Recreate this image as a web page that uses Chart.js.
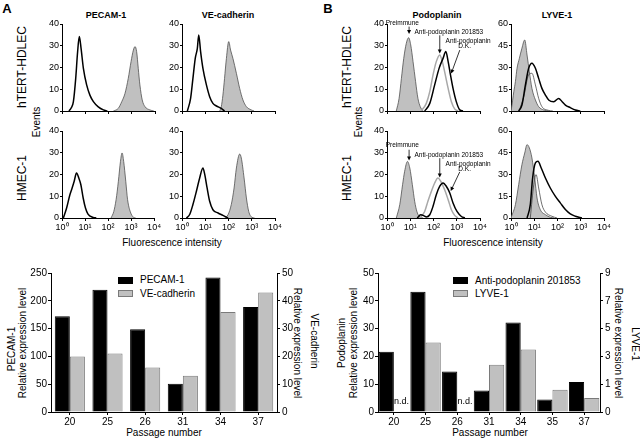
<!DOCTYPE html>
<html><head><meta charset="utf-8">
<script src="https://cdn.jsdelivr.net/npm/chart.js@4.4.1/dist/chart.umd.min.js"></script>
<style>
html,body{margin:0;padding:0;background:#fff;}
#fig{position:relative;width:640px;height:440px;overflow:hidden;background:#fff;font-family:"Liberation Sans",Arial,sans-serif;color:#000;}
#fig canvas{position:absolute;}
.t{position:absolute;white-space:nowrap;line-height:1;}
.lg{position:absolute;box-sizing:border-box;}
</style></head><body><div id="fig"></div>
<script>
// ---------- DATA ----------
const decadeLabels = ['10\u2070', '10\u00B9', '10\u00B2', '10\u00B3', '10\u2074'];

// Flow cytometry histograms: [log10 fluorescence, events]
const pecamHdlecCtrl = [[0.30,0],[0.40,1.5],[0.49,4.3],[0.59,15],[0.67,27],[0.745,34.2],[0.82,28.8],[0.92,19.6],[1.06,12],[1.2,7.3],[1.35,4.3],[1.56,1.9],[1.78,0.5],[1.95,0]];
const pecamHdlecStain = [[2.21,0],[2.42,1.2],[2.57,4.3],[2.71,8.1],[2.85,15],[2.97,22.7],[3.07,28],[3.14,29.6],[3.21,27.3],[3.28,19.6],[3.35,12],[3.45,5.1],[3.57,2],[3.78,0.5],[3.95,0]];
const vecadHdlecCtrl = [[0.23,0],[0.37,5.8],[0.47,15],[0.57,24.2],[0.66,28.8],[0.72,35],[0.8,27.3],[0.9,19.6],[1.05,12],[1.19,6.6],[1.33,3.5],[1.48,2.3],[1.69,1.2],[1.83,0]];
const vecadHdlecStain = [[1.62,0],[1.69,2],[1.76,7.3],[1.83,15],[1.91,24.2],[2.01,31.9],[2.09,28],[2.19,24.2],[2.34,17.3],[2.48,10.4],[2.62,5.1],[2.77,2],[2.98,0.5],[3.1,0]];
const pecamHmecCtrl = [[0.06,0],[0.2,4.6],[0.34,10.6],[0.44,13.8],[0.53,16.9],[0.63,20.7],[0.73,18.4],[0.82,15.3],[0.92,9.2],[1.02,4.6],[1.13,1.8],[1.35,0.3],[1.49,0]];
const pecamHmecStain = [[2.13,0],[2.25,3],[2.35,8.4],[2.45,16.9],[2.54,26],[2.61,29.9],[2.68,26],[2.77,16.9],[2.85,8.4],[2.97,2.8],[3.11,0.3],[3.2,0]];
const vecadHmecCtrl = [[0.19,0],[0.33,1.6],[0.47,6.2],[0.62,12.3],[0.76,18.4],[0.9,23],[0.98,19.9],[1.08,13.8],[1.19,7.7],[1.33,3.8],[1.55,2.3],[1.76,1.2],[1.98,0]];
const vecadHmecStain = [[1.83,0],[1.98,1.5],[2.12,6.2],[2.24,13.8],[2.34,23],[2.48,29.4],[2.55,27.6],[2.67,18.4],[2.77,9.2],[2.87,3],[3.01,0.3],[3.12,0]];

const podoHdlecPre = [[0.4,0],[0.52,5.8],[0.62,15],[0.72,24.2],[0.83,31.1],[0.93,33.7],[1.02,30.4],[1.12,22.7],[1.23,13.5],[1.33,5.8],[1.43,2],[1.55,0]];
const podoHdlec201853 = [[1.47,0],[1.69,3.5],[1.84,8.9],[1.98,16.6],[2.12,22.7],[2.27,25.8],[2.38,22.7],[2.48,18],[2.63,10.4],[2.77,4.3],[2.91,1],[3.06,0]];
const podoHdlecDK = [[1.62,0],[1.84,3.5],[2.05,12],[2.24,19.6],[2.41,24.2],[2.53,27.3],[2.63,22.7],[2.73,16.6],[2.84,10.4],[2.98,4.3],[3.13,0.5],[3.27,0]];
const podoHmecPre = [[0.4,0],[0.55,6.2],[0.67,15.3],[0.76,21.5],[0.88,26],[0.98,23],[1.09,15.3],[1.19,7.7],[1.29,2.8],[1.43,0.3],[1.55,0]];
const podoHmec201853 = [[1.41,0],[1.62,3],[1.76,7.7],[1.91,12.3],[2.05,16.1],[2.19,18.4],[2.31,16.9],[2.48,13],[2.63,8.4],[2.77,3.8],[2.91,1.2],[3.05,0]];
const podoHmecDK = [[1.3,0],[1.45,1.5],[1.6,1],[1.69,0.5],[1.84,1.5],[1.98,5.4],[2.12,10.7],[2.27,14.6],[2.41,16.1],[2.55,14.6],[2.7,11.5],[2.84,6.9],[3.01,3],[3.2,0.7],[3.35,0]];

const lyveHdlecIso = [[0,0],[0.02,1.8],[0.12,13.3],[0.19,20.3],[0.26,29.5],[0.36,36.3],[0.47,43.3],[0.59,49],[0.69,38.6],[0.79,27.1],[0.9,15.6],[1.05,7.6],[1.19,3],[1.41,0.7],[1.62,0]];
const lyveHdlecStain = [[0.33,0],[0.47,4.1],[0.62,18],[0.76,29.5],[0.9,33],[1.05,29.5],[1.19,22.5],[1.33,15.6],[1.48,11],[1.62,7.6],[1.84,6.4],[2.05,8.7],[2.2,6.4],[2.34,4.1],[2.55,2.3],[2.77,0.7],[2.98,0]];
const lyveHdlecAlt = [[0.35,0],[0.55,10],[0.76,25],[0.9,26],[1.05,18],[1.19,8.7],[1.33,3],[1.6,0.5],[1.8,0]];
const lyveHmecIso = [[0,0],[0.02,1],[0.19,9.2],[0.33,23],[0.47,36.8],[0.59,44.8],[0.69,50.6],[0.79,48.3],[0.9,41.4],[1.02,27.6],[1.12,13.8],[1.26,5.8],[1.48,2.3],[1.69,0.5],[1.85,0]];
const lyveHmecStain = [[0.69,0],[0.83,9.2],[0.93,27.6],[1.05,38],[1.16,39.1],[1.3,34.5],[1.48,27.6],[1.69,20.7],[1.91,14.9],[2.12,10.4],[2.34,5.8],[2.55,2.8],[2.77,1.2],[3.05,0]];
const lyveHmecAlt = [[0.83,0],[0.98,23],[1.08,29.9],[1.19,20.7],[1.33,9.2],[1.48,4.1],[1.76,1.2],[1.98,0]];

// Bar charts
const passageA = ['20','25','26','31','34','37'];
const pecamLevel = [172, 220, 149, 51, 242, 189];
const vecadLevel = [20, 21, 16, 13, 36, 43];
const passageB = ['20','25','26','31','34','35','37'];
const podoLevel = [21.7, 43.3, 14.6, 7.7, 32.2, 4.5, 10.8];
const lyveLevel = [null, 5.0, null, 3.4, 4.5, 1.6, 1.0];
const lyveTickLabels = ['0','1','3','5','7','9'];

// ---------- RENDER ----------
const FONT = '"Liberation Sans", Arial, sans-serif';
Chart.defaults.font.family = FONT;
Chart.defaults.color = '#000';
const fig = document.getElementById('fig');

function txt(s, x, y, size, opts = {}) {
  const d = document.createElement('div');
  d.className = 't'; d.textContent = s;
  d.style.left = x + 'px'; d.style.top = y + 'px'; d.style.fontSize = size + 'px';
  if (opts.bold) d.style.fontWeight = 'bold';
  d.style.transform = 'translate(-50%,-50%) rotate(' + (opts.rot || 0) + 'deg)';
  fig.appendChild(d);
}
function legendItem(x, y, bg, bd, s) {
  const b = document.createElement('div');
  b.className = 'lg';
  Object.assign(b.style, {left: x + 'px', top: (y - 3.5) + 'px', width: '15px', height: '7px', background: bg, border: '1px solid ' + bd});
  fig.appendChild(b);
  const d = document.createElement('div');
  d.className = 't'; d.textContent = s;
  Object.assign(d.style, {left: (x + 22) + 'px', top: y + 'px', fontSize: '10px', transform: 'translate(0,-50%)'});
  fig.appendChild(d);
}
function makeCanvas(left, top, w, h) {
  const c = document.createElement('canvas');
  c.width = w; c.height = h;
  Object.assign(c.style, {left: left + 'px', top: top + 'px', width: w + 'px', height: h + 'px', zIndex: 2});
  fig.appendChild(c);
  return c;
}

txt('A', 7, 8, 13, {bold: true});
txt('B', 328, 8, 13, {bold: true});
txt('PECAM-1', 106, 15, 9, {bold: true});
txt('VE-cadherin', 228, 15, 9, {bold: true});
txt('Podoplanin', 437, 15, 9, {bold: true});
txt('LYVE-1', 557, 15, 9, {bold: true});
txt('hTERT-HDLEC', 22, 67, 12, {rot: -90});
txt('HMEC-1', 22, 178, 12, {rot: -90});
txt('Events', 37, 122, 10, {rot: -90});
txt('hTERT-HDLEC', 347, 67, 12, {rot: -90});
txt('HMEC-1', 347, 178, 12, {rot: -90});
txt('Events', 359, 122, 10, {rot: -90});
txt('Fluorescence intensity', 172, 243, 10);
txt('Fluorescence intensity', 493, 243, 10);
txt('PECAM-1', 12, 349, 10, {rot: -90});
txt('Relative expression level', 23, 343, 10, {rot: -90});
txt('Relative expression level', 297, 343, 10, {rot: 90});
txt('VE-cadherin', 314, 341, 10, {rot: 90});
txt('Passage number', 164, 433, 10);
txt('Podoplanin', 342, 343, 10, {rot: -90});
txt('Relative expression level', 354, 343, 10, {rot: -90});
txt('Relative expression level', 618, 343, 10, {rot: 90});
txt('LYVE-1', 635, 344, 10, {rot: 90});
txt('Passage number', 490, 433, 10);
legendItem(118, 280, '#000', '#000', 'PECAM-1');
legendItem(118, 293.5, '#c0c0c0', '#7a7a7a', 'VE-cadherin');
legendItem(453, 280.5, '#000', '#000', 'Anti-podoplanin 201853');
legendItem(453, 293.5, '#c0c0c0', '#7a7a7a', 'LYVE-1');

const notePlugin = {
  id: 'notes',
  afterDraw(chart, args, opts) {
    const items = opts.items || [];
    if (!items.length) return;
    const {ctx} = chart; const xs = chart.scales.x, ys = chart.scales.y;
    ctx.save();
    ctx.font = '6.5px ' + FONT;
    ctx.fillStyle = '#000'; ctx.strokeStyle = '#000'; ctx.lineWidth = 0.8;
    ctx.textAlign = 'center'; ctx.textBaseline = 'middle';
    for (const it of items) {
      if (it.text) ctx.fillText(it.text, xs.getPixelForValue(it.at[0]), ys.getPixelForValue(it.at[1]));
      if (it.arrow) {
        const x0 = xs.getPixelForValue(it.arrow[0]), y0 = ys.getPixelForValue(it.arrow[1]);
        const x1 = xs.getPixelForValue(it.arrow[2]), y1 = ys.getPixelForValue(it.arrow[3]);
        const a = Math.atan2(y1 - y0, x1 - x0);
        ctx.beginPath(); ctx.moveTo(x0, y0); ctx.lineTo(x1 - 3 * Math.cos(a), y1 - 3 * Math.sin(a)); ctx.stroke();
        ctx.beginPath(); ctx.moveTo(x1, y1);
        ctx.lineTo(x1 - 4 * Math.cos(a) + 2 * Math.sin(a), y1 - 4 * Math.sin(a) - 2 * Math.cos(a));
        ctx.lineTo(x1 - 4 * Math.cos(a) - 2 * Math.sin(a), y1 - 4 * Math.sin(a) + 2 * Math.cos(a));
        ctx.closePath(); ctx.fill();
      }
    }
    ctx.restore();
  }
};

const FILL = {line: '#505050', w: 0.8, fill: '#c0c0c0'};
const OPEN = {line: '#000', w: 1.5};
const THIN = {line: '#303030', w: 0.7};
const GRAYL = {line: '#a8a8a8', w: 1.5};

// canvases are sized so that no two canvases overlap
function hist(box, yMax, yStep, showX, series, notes, YW, PR) {
  const PT = 8, XH = showX ? 16 : 7;
  const c = makeCanvas(box.l - YW, box.t - PT, box.r - box.l + YW + PR, box.b - box.t + PT + XH);
  new Chart(c, {
    type: 'line',
    data: { datasets: series.map(s => ({
      data: s.pts.map(([x, y]) => ({x, y})),
      borderColor: s.st.line, borderWidth: s.st.w,
      backgroundColor: s.st.fill || 'rgba(0,0,0,0)',
      fill: s.st.fill ? 'origin' : false,
      pointRadius: 0, cubicInterpolationMode: 'monotone'
    })) },
    options: {
      responsive: false, animation: false, devicePixelRatio: 1, events: [],
      layout: { padding: { top: PT, right: PR, left: 0, bottom: 0 } },
      plugins: { legend: {display: false}, tooltip: {enabled: false}, notes: {items: notes || []} },
      scales: {
        x: { type: 'linear', min: 0, max: 4, afterFit: s => { s.height = XH; },
             ticks: { display: showX, stepSize: 1, callback: v => decadeLabels[v], font: {size: 9}, padding: 1, maxRotation: 0, autoSkip: false },
             grid: { drawOnChartArea: false, tickLength: 3, color: '#000' }, border: {color: '#000'} },
        y: { min: 0, max: yMax, afterFit: s => { s.width = YW; },
             ticks: { stepSize: yStep, font: {size: 9}, padding: 1 },
             grid: { drawOnChartArea: false, tickLength: 2, color: '#000' }, border: {color: '#000'} }
      }
    },
    plugins: [notePlugin]
  });
}

const ndPlugin = {
  id: 'nd',
  afterDatasetsDraw(chart, args, opts) {
    if (!opts.dataset && opts.dataset !== 0) return;
    const meta = chart.getDatasetMeta(opts.dataset);
    const vals = chart.data.datasets[opts.dataset].data;
    const {ctx} = chart; const base = chart.scales.y.getPixelForValue(0);
    ctx.save(); ctx.font = '9px ' + FONT; ctx.fillStyle = '#000';
    ctx.textAlign = 'center'; ctx.textBaseline = 'middle';
    vals.forEach((v, i) => { if (v === null) ctx.fillText('n.d.', meta.data[i].x, base - 10); });
    ctx.restore();
  }
};

function barChart(box, labels, ds, yL, yR, catPct, ndIndex) {
  const YW = 30, YR = 28, PT = 8, XH = 15;
  const c = makeCanvas(box.l - YW, box.t - PT, box.r - box.l + YW + YR, box.b - box.t + PT + XH);
  const mk = () => ({ grid: { drawOnChartArea: false, tickLength: 3, color: '#000' }, border: {color: '#000'} });
  new Chart(c, {
    type: 'bar',
    data: { labels, datasets: ds.map(d => Object.assign({barPercentage: 1, categoryPercentage: catPct, borderWidth: 1, borderSkipped: 'bottom'}, d)) },
    options: {
      responsive: false, animation: false, devicePixelRatio: 1, events: [],
      layout: { padding: { top: PT, right: 0, left: 0, bottom: 0 } },
      plugins: { legend: {display: false}, tooltip: {enabled: false}, nd: {dataset: ndIndex} },
      scales: {
        x: { afterFit: s => { s.height = XH; }, border: {color: '#000'},
             grid: { drawOnChartArea: false, tickLength: 3, color: '#000', offset: false },
             ticks: { font: {size: 10}, padding: 1, maxRotation: 0, autoSkip: false } },
        y: Object.assign(mk(), { position: 'left', min: 0, max: yL.max, afterFit: s => { s.width = YW; },
             ticks: { stepSize: yL.step, font: {size: 10}, padding: 1 } }),
        y1: Object.assign(mk(), { position: 'right', min: 0, max: yR.max, afterFit: s => { s.width = YR; },
             ticks: { stepSize: yR.step, font: {size: 10}, padding: 2, callback: yR.cb || (v => v) } })
      }
    },
    plugins: [ndPlugin]
  });
}

// Panel A histograms
hist({l: 62, t: 24, r: 155, b: 111}, 40, 10, false, [{pts: pecamHdlecCtrl, st: OPEN}, {pts: pecamHdlecStain, st: FILL}], null, 20, 7);
hist({l: 182, t: 24, r: 275, b: 111}, 40, 10, false, [{pts: vecadHdlecCtrl, st: OPEN}, {pts: vecadHdlecStain, st: FILL}], null, 20, 10);
hist({l: 62, t: 131, r: 155, b: 218}, 40, 10, true, [{pts: pecamHmecCtrl, st: OPEN}, {pts: pecamHmecStain, st: FILL}], null, 20, 7);
hist({l: 182, t: 131, r: 275, b: 218}, 40, 10, true, [{pts: vecadHmecCtrl, st: OPEN}, {pts: vecadHmecStain, st: FILL}], null, 20, 10);
// Panel B histograms
hist({l: 387, t: 24, r: 480, b: 111}, 40, 10, false,
  [{pts: podoHdlecDK, st: OPEN}, {pts: podoHdlec201853, st: GRAYL}, {pts: podoHdlecPre, st: FILL}],
  [{text: 'Preimmune', at: [0.66, 40.3]}, {arrow: [0.95, 38.8, 0.95, 35.4]},
   {text: 'Anti-podoplanin 201853', at: [2.66, 36.4]}, {arrow: [2.27, 34.8, 2.27, 26.4]},
   {text: 'Anti-podoplanin', at: [3.49, 32.3]}, {text: 'D.K.', at: [3.34, 29.8]},
   {arrow: [3.13, 28.0, 2.76, 17.2]}], 20, 12);
hist({l: 511, t: 24, r: 604, b: 111}, 60, 15, false,
  [{pts: lyveHdlecStain, st: OPEN}, {pts: lyveHdlecAlt, st: THIN}, {pts: lyveHdlecIso, st: FILL}], null, 18, 10);
hist({l: 387, t: 131, r: 480, b: 218}, 40, 10, true,
  [{pts: podoHmecDK, st: OPEN}, {pts: podoHmec201853, st: GRAYL}, {pts: podoHmecPre, st: FILL}],
  [{text: 'Preimmune', at: [0.66, 33.4]}, {arrow: [0.95, 31.4, 0.95, 26.4]},
   {text: 'Anti-podoplanin 201853', at: [2.66, 29.1]}, {arrow: [2.27, 27.5, 2.27, 18.6]},
   {text: 'Anti-podoplanin', at: [3.49, 24.8]}, {text: 'D.K.', at: [3.34, 22.6]},
   {arrow: [3.13, 21.2, 2.74, 12.4]}], 20, 12);
hist({l: 511, t: 131, r: 604, b: 218}, 60, 15, true,
  [{pts: lyveHmecStain, st: OPEN}, {pts: lyveHmecAlt, st: THIN}, {pts: lyveHmecIso, st: FILL}], null, 18, 10);

// Bar charts
barChart({l: 51, t: 273, r: 277, b: 412}, passageA, [
  {label: 'PECAM-1', data: pecamLevel, yAxisID: 'y', backgroundColor: '#000', borderColor: '#000'},
  {label: 'VE-cadherin', data: vecadLevel, yAxisID: 'y1', backgroundColor: '#c0c0c0', borderColor: '#7a7a7a'}
], {max: 250, step: 50}, {max: 50, step: 10}, 0.8, undefined);
barChart({l: 378, t: 273, r: 600, b: 412}, passageB, [
  {label: 'Anti-podoplanin 201853', data: podoLevel, yAxisID: 'y', backgroundColor: '#000', borderColor: '#000'},
  {label: 'LYVE-1', data: lyveLevel, yAxisID: 'y1', backgroundColor: '#c0c0c0', borderColor: '#7a7a7a'}
], {max: 50, step: 10}, {max: 10, step: 2, cb: (v, i) => lyveTickLabels[i]}, 0.96, 1);
</script></body></html>
